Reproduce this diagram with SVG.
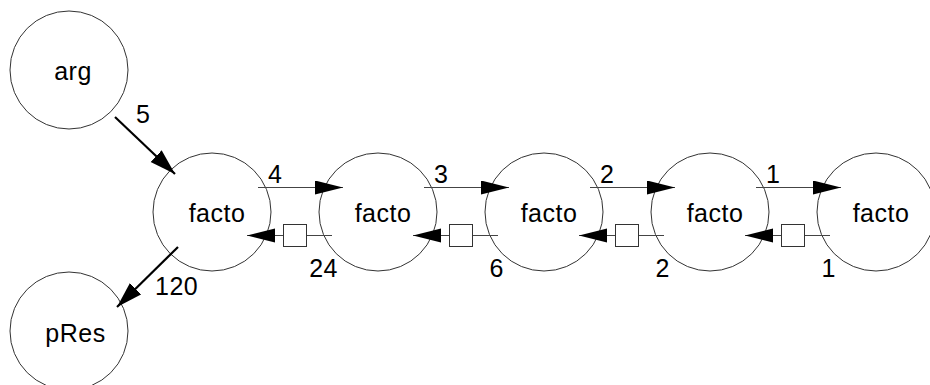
<svg xmlns="http://www.w3.org/2000/svg" width="930" height="385" viewBox="0 0 930 385">
  <style>
    .node circle { fill: none; stroke: #333; stroke-width: 1; }
    text { font-family: "Liberation Sans", Arial, Helvetica, sans-serif; font-size: 25px; fill: #000; letter-spacing: 0.5px; }
    .name { text-anchor: middle; }
    .msg { stroke: #444; stroke-width: 1.2; fill: none; }
    .flow { stroke: #000; stroke-width: 2.2; fill: none; }
    .buf { fill: #fff; stroke: #333; stroke-width: 1; }
    .end { text-anchor: end; }
  </style>
  <defs>
    <marker id="head" markerUnits="userSpaceOnUse" markerWidth="30" markerHeight="16" refX="28" refY="7" orient="auto">
      <path d="M0,0 L28,7 L0,14 Z" fill="#000"/>
    </marker>
    <marker id="headBold" markerUnits="userSpaceOnUse" markerWidth="28" markerHeight="18" refX="26" refY="8" orient="auto">
      <path d="M0,0 L26,8 L0,16 Z" fill="#000"/>
    </marker>
  </defs>

  <!-- processes -->
  <g id="node-arg" class="node">
    <circle cx="69" cy="70" r="59"/>
    <text class="name" x="73" y="80">arg</text>
  </g>
  <g id="node-pres" class="node">
    <circle cx="69" cy="331" r="59"/>
    <text class="name" x="75.5" y="342">pRes</text>
  </g>
  <g id="node-facto1" class="node">
    <circle cx="212" cy="212" r="59"/>
    <text class="name" x="217" y="222">facto</text>
  </g>
  <g id="node-facto2" class="node">
    <circle cx="378" cy="212" r="59"/>
    <text class="name" x="383" y="222">facto</text>
  </g>
  <g id="node-facto3" class="node">
    <circle cx="544" cy="212" r="59"/>
    <text class="name" x="549" y="222">facto</text>
  </g>
  <g id="node-facto4" class="node">
    <circle cx="710" cy="212" r="59"/>
    <text class="name" x="715" y="222">facto</text>
  </g>
  <g id="node-facto5" class="node">
    <circle cx="876" cy="212" r="59"/>
    <text class="name" x="881" y="222">facto</text>
  </g>

  <!-- channels -->
  <g id="connectors">
    <!-- input and result -->
    <line class="flow" x1="115" y1="117" x2="175" y2="174" marker-end="url(#headBold)"/>
    <text x="136" y="123">5</text>
    <line class="flow" x1="178" y1="247" x2="117" y2="307" marker-end="url(#headBold)"/>
    <text x="155" y="295">120</text>

    <!-- facto1 <-> facto2 -->
    <line class="msg" x1="258" y1="187.5" x2="343" y2="187.5" marker-end="url(#head)"/>
    <text x="268" y="183">4</text>
    <line class="msg" x1="332" y1="235.5" x2="247" y2="235.5" marker-end="url(#head)"/>
    <rect class="buf" x="283.5" y="224.5" width="23" height="22"/>
    <text class="end" x="338" y="277">24</text>

    <!-- facto2 <-> facto3 -->
    <line class="msg" x1="424" y1="187.5" x2="509" y2="187.5" marker-end="url(#head)"/>
    <text x="434" y="183">3</text>
    <line class="msg" x1="498" y1="235.5" x2="413" y2="235.5" marker-end="url(#head)"/>
    <rect class="buf" x="449.5" y="224.5" width="23" height="22"/>
    <text class="end" x="504" y="277">6</text>

    <!-- facto3 <-> facto4 -->
    <line class="msg" x1="590" y1="187.5" x2="675" y2="187.5" marker-end="url(#head)"/>
    <text x="600" y="183">2</text>
    <line class="msg" x1="664" y1="235.5" x2="579" y2="235.5" marker-end="url(#head)"/>
    <rect class="buf" x="615.5" y="224.5" width="23" height="22"/>
    <text class="end" x="670" y="277">2</text>

    <!-- facto4 <-> facto5 -->
    <line class="msg" x1="756" y1="187.5" x2="841" y2="187.5" marker-end="url(#head)"/>
    <text x="766" y="183">1</text>
    <line class="msg" x1="830" y1="235.5" x2="745" y2="235.5" marker-end="url(#head)"/>
    <rect class="buf" x="781.5" y="224.5" width="23" height="22"/>
    <text class="end" x="836" y="277">1</text>
  </g>
</svg>
